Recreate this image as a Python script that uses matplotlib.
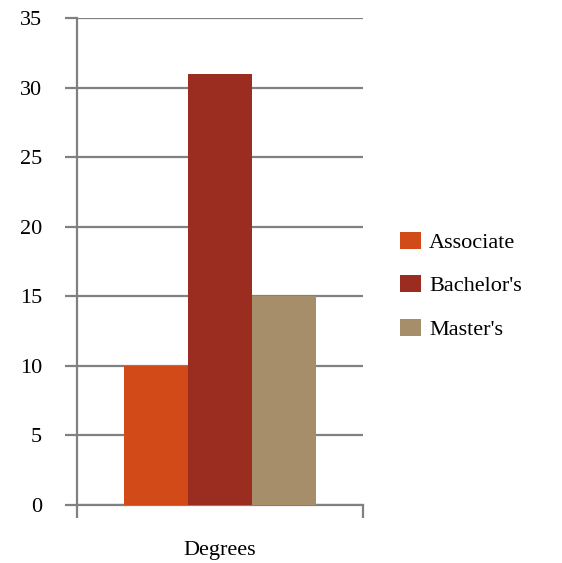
import matplotlib.pyplot as plt

categories = ["Associate", "Bachelor's", "Master's"]
values = [10, 31, 15]
colors = ["#D24A17", "#9B2D20", "#A68E6B"]
y_ticks = [0, 5, 10, 15, 20, 25, 30, 35]
group_label = "Degrees"

plt.rcParams['font.family'] = ['Liberation Serif', 'DejaVu Serif']

fig = plt.figure(figsize=(5.62, 5.63), dpi=100)
ax = fig.add_axes([0.137, 0.103, 0.509, 0.865])

width = 0.223
offsets = [-1, 0, 1]
for name, val, col, off in zip(categories, values, colors, offsets):
    ax.bar(0.5 + off * width, val, width=width, color=col, label=name, zorder=3)

grey = "#808080"
ax.set_xlim(0, 1)
ax.set_ylim(0, 35)
ax.set_yticks(y_ticks)
ax.set_yticklabels([str(t) for t in y_ticks], fontsize=16)
ax.yaxis.grid(True, color=grey, linewidth=1.6, zorder=0)
ax.set_axisbelow(True)

ax.set_xticks([0, 1])
ax.set_xticklabels(["", ""])
ax.set_xticks([0.5], minor=True)
ax.set_xticklabels([group_label], minor=True, fontsize=16)
ax.tick_params(axis='x', which='minor', length=0, pad=26)
ax.tick_params(axis='x', which='major', length=9, width=1.6, color=grey)
ax.tick_params(axis='y', length=9, width=1.6, color=grey, pad=16)

for s in ["top", "right"]:
    ax.spines[s].set_visible(False)
for s in ["left", "bottom"]:
    ax.spines[s].set_color(grey)
    ax.spines[s].set_linewidth(1.6)

ax.legend(loc='center left', bbox_to_anchor=(1.06, 0.45), frameon=False,
          fontsize=16, handlelength=0.95, handleheight=0.8, handletextpad=0.35,
          labelspacing=1.0)

fig.savefig("out.png", dpi=100)
